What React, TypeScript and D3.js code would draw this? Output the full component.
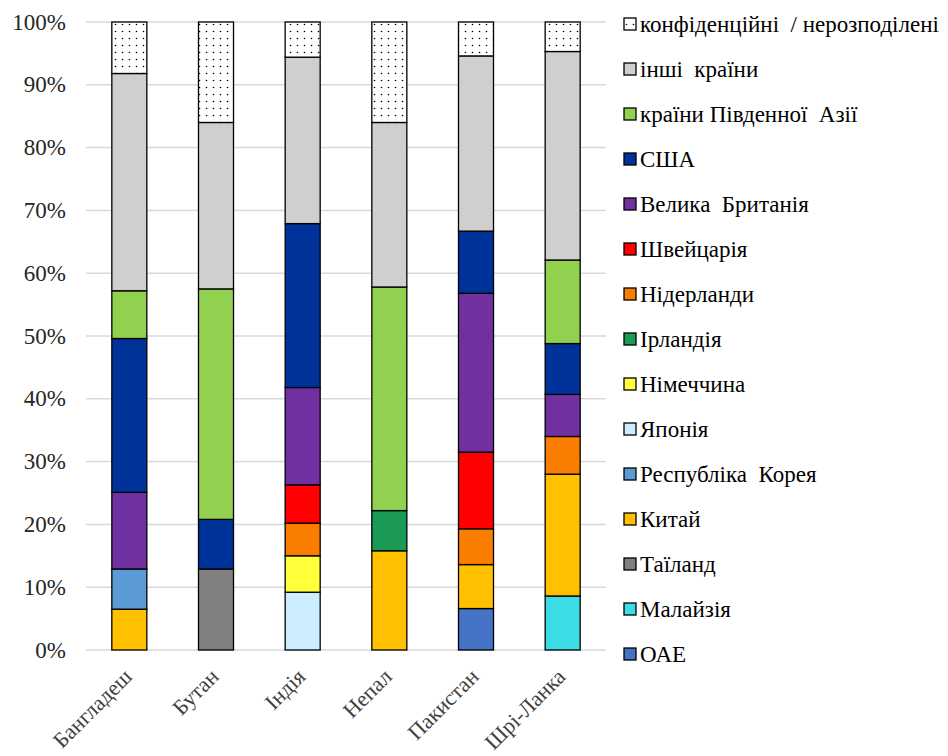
import { useEffect } from 'react';
import * as d3 from 'd3';

const categories = ['Бангладеш', 'Бутан', 'Індія', 'Непал', 'Пакистан', 'Шрі-Ланка'];

// stacked bottom to top, share of total, %
const seriesNames = [
  'ОАЕ', 'Малайзія', 'Таїланд', 'Китай', 'Республіка \u00a0Корея', 'Японія', 'Німеччина',
  'Ірландія', 'Нідерланди', 'Швейцарія', 'Велика \u00a0Британія', 'США',
  'країни Південної \u00a0Азії', 'інші \u00a0країни', 'конфіденційні \u00a0/ нерозподілені',
];
const uae = [0, 0, 0, 0, 6.6, 0];
const malaysia = [0, 0, 0, 0, 0, 8.6];
const thailand = [0, 12.9, 0, 0, 0, 0];
const china = [6.5, 0, 0, 15.8, 7.0, 19.4];
const korea = [6.4, 0, 0, 0, 0, 0];
const japan = [0, 0, 9.2, 0, 0, 0];
const germany = [0, 0, 5.8, 0, 0, 0];
const ireland = [0, 0, 0, 6.4, 0, 0];
const netherlands = [0, 0, 5.2, 0, 5.7, 6.0];
const switzerland = [0, 0, 6.1, 0, 12.2, 0];
const uk = [12.2, 0, 15.5, 0, 25.3, 6.7];
const usa = [24.5, 7.9, 26.1, 0, 9.9, 8.1];
const southAsia = [7.6, 36.7, 0, 35.6, 0, 13.3];
const others = [34.6, 26.5, 26.5, 26.2, 27.9, 33.2];
const confidential = [8.2, 16.0, 5.6, 16.0, 5.4, 4.7];
const yTicks = [0, 10, 20, 30, 40, 50, 60, 70, 80, 90, 100];

const seriesValues = [
  uae, malaysia, thailand, china, korea, japan, germany, ireland,
  netherlands, switzerland, uk, usa, southAsia, others, confidential,
];
const colors = [
  '#4472C4', '#3CDCE4', '#808080', '#FFC000', '#5B9BD5', '#CCECFF', '#FFFF3B',
  '#1B9A55', '#FA7D00', '#FF0000', '#7030A0', '#003399', '#92D050', '#D0CECE',
  'url(#dots)',
];

const W = 948;
const H = 756;
const serif = 'Liberation Serif';

export default function App() {
  useEffect(() => {
    document.body.style.margin = '0';
  }, []);

  const rows = categories.map((c, i) => {
    const r: Record<string, number | string> = { cat: c };
    seriesNames.forEach((s, j) => (r[s] = seriesValues[j][i]));
    return r;
  });
  const stacked = d3.stack<any>().keys(seriesNames)(rows);

  const x = d3.scaleBand().domain(categories).range([86, 606]).paddingInner(0.596).paddingOuter(0.298);
  const y = d3.scaleLinear().domain([0, 100]).range([650, 22]);
  const legendY = d3.scalePoint().domain([...seriesNames].reverse()).range([24, 654]);

  return (
    <svg width={W} height={H} fontFamily={serif} style={{ display: 'block', background: '#fff' }}>
      <defs>
        <pattern id="dots" width="7" height="7" patternUnits="userSpaceOnUse">
          <rect width="7" height="7" fill="#fff" />
          <circle cx="3.5" cy="3.5" r="0.8" fill="#000" />
        </pattern>
      </defs>

      {yTicks.map(t => (
        <g key={t}>
          <line x1={86} x2={606} y1={y(t)} y2={y(t)} stroke="#D9D9D9" strokeWidth={1.5} />
          <text x={66} y={y(t)} dy="0.33em" textAnchor="end" fontSize={23} fill="#262626" fontFamily={serif}>
            {`${t}%`}
          </text>
        </g>
      ))}

      {stacked.map((layer, j) => (
        <g key={layer.key} fill={colors[j]}>
          {layer.map((d, i) =>
            d[1] - d[0] > 0 ? (
              <rect
                key={i}
                x={x(categories[i])}
                y={y(d[1])}
                width={x.bandwidth()}
                height={y(d[0]) - y(d[1])}
                stroke="#000"
                strokeWidth={1.3}
              />
            ) : null
          )}
        </g>
      ))}

      {categories.map(c => (
        <text
          key={c}
          transform={`translate(${(x(c) ?? 0) + x.bandwidth() / 2 + 4},678) rotate(-45)`}
          textAnchor="end"
          fontSize={22}
          fill="#404040"
          fontFamily={serif}
        >
          {c}
        </text>
      ))}

      {seriesNames.map((s, j) => {
        const cy = legendY(s) ?? 0;
        return (
          <g key={s}>
            <rect x={624} y={cy - 6} width={12} height={12} fill={colors[j]} stroke="#000" strokeWidth={1.3} />
            <text x={640} y={cy} dy="0.33em" fontSize={23} fill="#000" fontFamily={serif}>
              {s}
            </text>
          </g>
        );
      })}
    </svg>
  );
}
